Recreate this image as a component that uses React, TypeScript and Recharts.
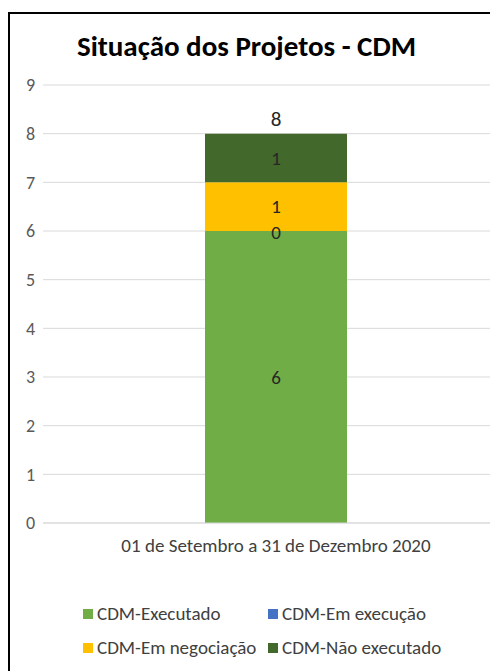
import { Bar, BarChart, CartesianGrid, LabelList, XAxis, YAxis } from 'recharts'

const categories = ['01 de Setembro a 31 de Dezembro 2020']
const executado = [6]
const emExecucao = [0]
const emNegociacao = [1]
const naoExecutado = [1]
const yTicks = [0, 1, 2, 3, 4, 5, 6, 7, 8, 9]

const series = [
  { key: 'executado', name: 'CDM-Executado', color: '#70AD47' },
  { key: 'emExecucao', name: 'CDM-Em execução', color: '#4472C4' },
  { key: 'emNegociacao', name: 'CDM-Em negociação', color: '#FFC000' },
  { key: 'naoExecutado', name: 'CDM-Não executado', color: '#43682B' },
]

const data = categories.map((label, i) => ({
  label,
  executado: executado[i],
  emExecucao: emExecucao[i],
  emNegociacao: emNegociacao[i],
  naoExecutado: naoExecutado[i],
  total: executado[i] + emExecucao[i] + emNegociacao[i] + naoExecutado[i],
}))

const font = 'Calibri, Carlito, "Open Sans", sans-serif'

// the zero-height "Em execução" segment sits on top of "Executado", so its label is drawn there
function ZeroSegmentLabel(props: any) {
  const { x, y, width, value } = props
  return (
    <text
      x={x + width / 2}
      y={y + 1}
      textAnchor="middle"
      dominantBaseline="central"
      fill="#262626"
      fontSize={19}
      fontFamily={font}
    >
      {value}
    </text>
  )
}

export default function App() {
  return (
    <div style={{ position: 'relative', width: 490, height: 663, overflow: 'hidden', fontFamily: font }}>
      <div
        style={{
          position: 'absolute',
          left: 0,
          top: 4,
          width: 520,
          height: 700,
          border: '2px solid #000',
          boxSizing: 'border-box',
        }}
      />
      <div
        style={{
          position: 'absolute',
          left: 0,
          top: 21,
          width: 477,
          textAlign: 'center',
          fontSize: 29,
          lineHeight: '35px',
          fontWeight: 700,
          color: '#000',
          whiteSpace: 'nowrap',
        }}
      >
        Situação dos Projetos - CDM
      </div>
      <div style={{ position: 'absolute', left: 0, top: 0 }}>
        <BarChart width={510} height={663} data={data} margin={{ top: 77, right: 9, bottom: 108, left: 0 }}>
          <CartesianGrid stroke="#D9D9D9" vertical={false} />
          <XAxis
            dataKey="label"
            tickLine={false}
            axisLine={{ stroke: '#D9D9D9' }}
            height={40}
            tick={{ fill: '#404040', fontSize: 19, fontFamily: font }}
            tickMargin={10}
          />
          <YAxis
            domain={[0, 9]}
            ticks={yTicks}
            tickLine={false}
            axisLine={false}
            width={35}
            tick={{ fill: '#595959', fontSize: 18, fontFamily: font }}
          />
          {series.map((s, idx) => (
            <Bar key={s.key} dataKey={s.key} name={s.name} stackId="a" fill={s.color} barSize={142} isAnimationActive={false}>
              <LabelList dataKey={s.key} position="center" fill="#262626" fontSize={19} fontFamily={font} />
              {idx === 0 && <LabelList dataKey="emExecucao" content={<ZeroSegmentLabel />} />}
              {idx === series.length - 1 && (
                <LabelList dataKey="total" position="top" offset={8} fill="#262626" fontSize={21} fontFamily={font} />
              )}
            </Bar>
          ))}
        </BarChart>
      </div>
      <div
        style={{
          position: 'absolute',
          left: 75,
          top: 595,
          display: 'grid',
          gridTemplateColumns: '185px 210px',
          rowGap: 13,
          fontSize: 19,
          color: '#404040',
        }}
      >
        {series.map((s) => (
          <div key={s.key} style={{ display: 'flex', alignItems: 'center', height: 21, whiteSpace: 'nowrap' }}>
            <span style={{ width: 10, height: 10, background: s.color, marginRight: 4, display: 'inline-block', flexShrink: 0 }} />
            {s.name}
          </div>
        ))}
      </div>
    </div>
  )
}
